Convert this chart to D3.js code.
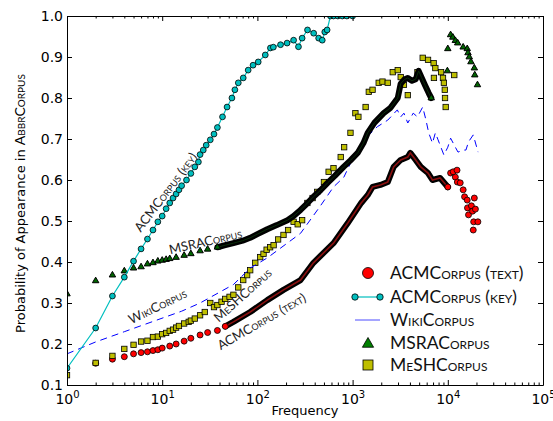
<!DOCTYPE html>
<html>
<head>
<meta charset='utf-8'>
<style>
  body { margin: 0; background: #fff; }
  svg { display: block; }
  .tick text { font-family: 'DejaVu Sans', sans-serif; font-size: 14px; fill: #000; }
  .sc { font-family: Lato, 'Open Sans', sans-serif; font-variant: small-caps; }
</style>
</head>
<body>
<svg></svg>
<script src="https://d3js.org/d3.v7.min.js"></script>
<script>
// ACMCorpus (key)
var keyFreq = [1,2,3,4,5,6,7,8,9,10,11,12,13,14,15,16,18,20,22,24,25,27,29,32,35,38,43,48,54,58,63,71,80,90,102,121,137,147,175,205,240,270,295,336,390,440,480,510,540,585,630,700,780,870,1000];
var keyProb = [.141,.239,.317,.363,.402,.432,.456,.478,.498,.512,.53,.544,.556,.566,.576,.586,.6,.616,.632,.644,.662,.673,.685,.698,.712,.728,.754,.778,.80,.82,.837,.849,.868,.88,.888,.905,.922,.924,.93,.934,.941,.925,.946,.966,.958,.946,.941,.961,.966,1,1,1,1,1,1];

// ACMCorpus (text)
var textFreq = [2,3,4,5,6,7,8,9,10,12,14,17,20,25,30,38,46,56,84,127,188,284,388,630,890,1230,1440,1620,1960,2340,2700,3200,3800,4040,4600,5200,6200,6900,8300,10000,
  10700,11400,12000,12500,12600,13500,14500,15000,16000,16100,16500,17700,18200,19000,19500,18700,20700,18500];
var textProb = [.153,.163,.169,.176,.179,.181,.184,.186,.19,.195,.2,.207,.214,.222,.228,.233,.243,.254,.278,.307,.332,.356,.398,.446,.495,.544,.563,.583,.588,.595,.632,.649,.656,.666,.649,.632,.617,.60,.605,.583,
  .617,.62,.607,.624,.595,.593,.576,.559,.551,.532,.515,.537,.524,.556,.529,.498,.498,.478];

// WikiCorpus
var wikiFreq = [1,2,4,8,16,25,56,84,127,284,450,630,810,1020,1130,1320,1820,2340,2950,3200,3460,3800,4330,4800,5450,5900,6300,6900,7400,7900,9100,10000,10700,12000,12800,14500,15500,16500,18500,20800];
var wikiProb = [.176,.205,.23,.255,.28,.30,.345,.385,.41,.47,.534,.583,.607,.656,.666,.698,.73,.746,.771,.754,.763,.739,.763,.754,.778,.746,.715,.69,.715,.698,.661,.68,.702,.68,.668,.673,.673,.693,.71,.668];

// MSRACorpus
var msraFreq = [1,2,3,4,5,6,7,8,9,10,11,12,14,17,20,25,30,38,46,56,70,84,100,127,160,207,240,284,330,388,460,546,650,804,950,1130,1300,1440,1700,2120,2500,2980,3200,3500,3800,4200,4600,4940,5300,5800,6300,6700,
  9900,10000,10700,11300,12000,12700,14500,16000,16300,16800,17500,19000,19200,20500];
var msraProb = [.322,.354,.368,.378,.385,.388,.395,.398,.402,.404,.406,.408,.411,.416,.420,.427,.431,.436,.441,.446,.452,.459,.468,.480,.490,.502,.512,.527,.542,.559,.575,.593,.61,.632,.648,.666,.69,.715,.74,.763,.776,.80,.835,.845,.849,.842,.846,.866,.85,.83,.812,.80,
  .866,.92,.954,.948,.94,.934,.924,.92,.91,.90,.888,.873,.856,.832];

// MeSHCorpus
var meshFreq = [1,2,3,4,5,6,7,8,9,10,11,12,13,14,15,17,19,20,22,25,28,32,35,38,42,46,51,56,63,71,78,84,95,107,116,125,136,148,165,188,210,240,265,295,335,380,425,500,560,630,750,815,950,1070,1150,1370,1480,1620,1880,2060,2340,2640,2980,3200,3460,3800,4800,5450,6200,7100,7400,7150,8500,8900,9100,9300,9350,9500,11700];
var meshProb = [.124,.154,.171,.188,.198,.206,.208,.217,.218,.224,.227,.232,.235,.24,.244,.25,.254,.257,.262,.27,.278,.30,.29,.295,.303,.31,.315,.32,.338,.356,.368,.38,.398,.412,.42,.43,.436,.441,.455,.466,.478,.498,.492,.502,.544,.556,.571,.595,.62,.629,.656,.68,.715,.763,.754,.778,.815,.82,.837,.84,.837,.863,.868,.851,.832,.807,.863,.898,.893,.885,.873,.849,.863,.849,.837,.82,.80,.778,.856];

var xTickExp = [0,1,2,3,4,5];
var yTicks = [0.1,0.2,0.3,0.4,0.5,0.6,0.7,0.8,0.9,1.0];

var legendNames = ['ACMCorpus (text)','ACMCorpus (key)','WikiCorpus','MSRACorpus','MeSHCorpus'];
var notes = [
  {text: 'ACMCorpus (key)', f: 10.8, p: 0.571, a: -53},
  {text: 'MSRACorpus', f: 28.4, p: 0.451, a: -13},
  {text: 'WikiCorpus', f: 8.9, p: 0.293, a: -26},
  {text: 'MeSHCorpus', f: 69.5, p: 0.32, a: -42},
  {text: 'ACMCorpus (text)', f: 110, p: 0.256, a: -30}
];

var W = 553, H = 421;
var pl = 67, pr = 543, pt = 16, pb = 385;
var svg = d3.select('svg').attr('width', W).attr('height', H);

var x = d3.scaleLog().domain([1, 1e5]).range([pl, pr]);
var y = d3.scaleLinear().domain([0.1, 1.0]).range([pb, pt]);

function pts(fs, ps) { return fs.map(function (f, i) { return [f, ps[i]]; }); }
var keyData = pts(keyFreq, keyProb), textData = pts(textFreq, textProb), wikiData = pts(wikiFreq, wikiProb),
    msraData = pts(msraFreq, msraProb), meshData = pts(meshFreq, meshProb);

svg.append('clipPath').attr('id', 'clip').append('rect')
  .attr('x', pl).attr('y', pt).attr('width', pr - pl).attr('height', pb - pt);
var plot = svg.append('g').attr('clip-path', 'url(#clip)');
var line = d3.line().x(function (d) { return x(d[0]); }).y(function (d) { return y(d[1]); });

// dense parts (overlapping markers) drawn as a thick band
function band(data, lo, hi, inner, w) {
  var seg = data.filter(function (d) { return d[0] >= lo && d[0] <= hi; });
  plot.append('path').attr('d', line(seg)).attr('fill', 'none').attr('stroke', '#000').attr('stroke-width', 6).attr('stroke-linejoin', 'round').attr('stroke-linecap', 'round');
  plot.append('path').attr('d', line(seg)).attr('fill', 'none').attr('stroke', inner).attr('stroke-width', w);
}
function outside(lo, hi) { return function (d) { return d[0] < lo || d[0] > hi; }; }

// ACMCorpus (text)
band(textData, 46, 10000, '#8a1010', 1.6);
plot.selectAll('.txt').data(textData.filter(outside(50, 9000))).enter().append('circle')
  .attr('cx', function (d) { return x(d[0]); }).attr('cy', function (d) { return y(d[1]); })
  .attr('r', 3).attr('fill', '#ff0000').attr('stroke', '#000').attr('stroke-width', 0.8);

// MeSHCorpus
plot.selectAll('.mesh').data(meshData).enter().append('rect')
  .attr('x', function (d) { return x(d[0]) - 2.7; }).attr('y', function (d) { return y(d[1]) - 2.7; })
  .attr('width', 5.4).attr('height', 5.4).attr('fill', '#bfbf00').attr('stroke', '#000').attr('stroke-width', 0.8);

// WikiCorpus
plot.append('path').attr('d', line(wikiData)).attr('fill', 'none')
  .attr('stroke', '#0000ff').attr('stroke-width', 1).attr('stroke-dasharray', '7,5');

// MSRACorpus
band(msraData, 38, 6700, '#0b2e0b', 1);
var tri = d3.symbol().type(d3.symbolTriangle).size(18);
plot.selectAll('.msra').data(msraData.filter(outside(40, 6600))).enter().append('path')
  .attr('d', tri).attr('transform', function (d) { return 'translate(' + x(d[0]) + ',' + y(d[1]) + ')'; })
  .attr('fill', '#006400').attr('stroke', '#000').attr('stroke-width', 1);

// ACMCorpus (key)
plot.append('path').attr('d', line(keyData)).attr('fill', 'none').attr('stroke', '#00bfbf').attr('stroke-width', 1.2);
plot.selectAll('.key').data(keyData).enter().append('circle')
  .attr('cx', function (d) { return x(d[0]); }).attr('cy', function (d) { return y(d[1]); })
  .attr('r', 2.9).attr('fill', '#00bfbf').attr('stroke', '#000').attr('stroke-width', 0.8);

// annotations
notes.forEach(function (n) {
  svg.append('text').attr('class', 'sc')
    .attr('transform', 'translate(' + x(n.f) + ',' + y(n.p) + ') rotate(' + n.a + ')')
    .attr('text-anchor', 'middle').attr('dominant-baseline', 'central')
    .attr('font-size', 13).attr('fill', '#222').text(n.text);
});

// axes
var majors = xTickExp.map(function (e) { return Math.pow(10, e); });
var minors = [];
xTickExp.slice(0, -1).forEach(function (e) { for (var k = 2; k < 10; k++) minors.push(k * Math.pow(10, e)); });

function xAxes(gen, ty, size) {
  svg.append('g').attr('transform', 'translate(0,' + ty + ')')
    .call(gen(x).tickValues(minors).tickSizeInner(-2.5).tickSizeOuter(0).tickFormat(''))
    .call(function (g) { g.select('.domain').remove(); });
  return svg.append('g').attr('transform', 'translate(0,' + ty + ')')
    .call(gen(x).tickValues(majors).tickSizeInner(-size).tickSizeOuter(0).tickPadding(8).tickFormat(''));
}
var bx = xAxes(d3.axisBottom, pb, 5);
xAxes(d3.axisTop, pt, 5);
bx.selectAll('.tick').append('text').attr('y', 19).attr('text-anchor', 'middle')
  .each(function (d) {
    var t = d3.select(this);
    t.append('tspan').text('10');
    t.append('tspan').attr('dy', -6).attr('font-size', 10).text(Math.round(Math.log10(d)));
  });

svg.append('g').attr('transform', 'translate(' + pl + ',0)')
  .call(d3.axisLeft(y).tickValues(yTicks).tickSizeInner(-5).tickSizeOuter(0).tickPadding(4).tickFormat(d3.format('.1f')));
svg.append('g').attr('transform', 'translate(' + pr + ',0)')
  .call(d3.axisRight(y).tickValues(yTicks).tickSizeInner(-5).tickSizeOuter(0).tickFormat(''));
svg.selectAll('.domain').attr('stroke', '#000').attr('stroke-width', 1);
svg.selectAll('.tick line').attr('stroke', '#000');

// axis labels
svg.append('text').attr('x', (pl + pr) / 2).attr('y', 415).attr('text-anchor', 'middle')
  .attr('font-family', 'DejaVu Sans').attr('font-size', 13).text('Frequency');
var yl = svg.append('text').attr('transform', 'translate(25,' + ((pt + pb) / 2 + 3) + ') rotate(-90)')
  .attr('text-anchor', 'middle').attr('font-family', 'DejaVu Sans').attr('font-size', 13);
yl.append('tspan').text('Probability of Appearance in ');
yl.append('tspan').attr('class', 'sc').attr('font-size', 14).text('AbbrCorpus');

// legend
var lg = svg.append('g');
var rows = [273, 297, 320, 343, 365];
lg.append('circle').attr('cx', 368).attr('cy', rows[0]).attr('r', 5.5).attr('fill', '#ff0000').attr('stroke', '#000').attr('stroke-width', 0.8);
lg.append('line').attr('x1', 355).attr('x2', 380).attr('y1', rows[1]).attr('y2', rows[1]).attr('stroke', '#00bfbf').attr('stroke-width', 1.2);
[355, 380].forEach(function (cx) {
  lg.append('circle').attr('cx', cx).attr('cy', rows[1]).attr('r', 3.2).attr('fill', '#00bfbf').attr('stroke', '#000').attr('stroke-width', 0.8);
});
lg.append('line').attr('x1', 355).attr('x2', 380).attr('y1', rows[2]).attr('y2', rows[2]).attr('stroke', '#4d4dff').attr('stroke-width', 1);
lg.append('path').attr('d', d3.symbol().type(d3.symbolTriangle).size(55))
  .attr('transform', 'translate(368,' + (rows[3] + 1) + ')').attr('fill', '#008000').attr('stroke', '#000').attr('stroke-width', 0.8);
lg.append('rect').attr('x', 363).attr('y', rows[4] - 5).attr('width', 10).attr('height', 10)
  .attr('fill', '#bfbf00').attr('stroke', '#000').attr('stroke-width', 0.8);
legendNames.forEach(function (name, i) {
  lg.append('text').attr('class', 'sc').attr('x', 390).attr('y', rows[i] + 6).attr('font-size', 17.5).attr('fill', '#111')
    .text(name);
});
</script>
</body>
</html>
